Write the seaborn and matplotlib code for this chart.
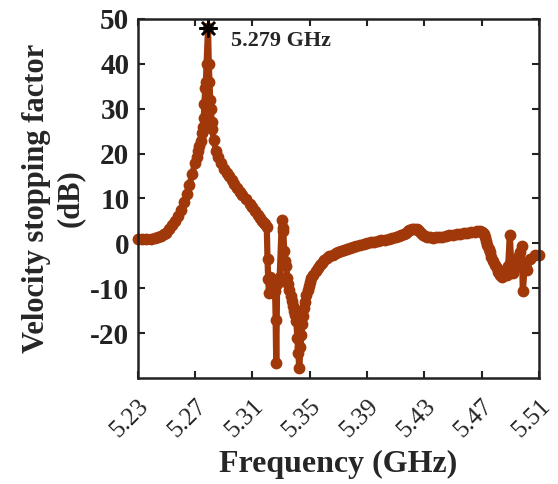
import matplotlib
matplotlib.use("Agg")
import matplotlib.pyplot as plt
import seaborn as sns

# frequency (GHz) and velocity stopping factor (dB)
freq = [5.230, 5.233, 5.236, 5.239, 5.242, 5.244, 5.246, 5.248, 5.250, 5.252,
        5.254, 5.256, 5.258, 5.260, 5.262, 5.264, 5.266, 5.268, 5.270, 5.271,
        5.272, 5.273, 5.274, 5.275, 5.2755, 5.276, 5.2765, 5.277, 5.2775, 5.278,
        5.279, 5.2795, 5.280, 5.2805, 5.281, 5.2815, 5.282, 5.283, 5.2846, 5.286,
        5.288, 5.290, 5.292, 5.2937, 5.2955, 5.297, 5.299, 5.301, 5.303, 5.3056,
        5.308, 5.310, 5.312, 5.314, 5.3155, 5.317, 5.318, 5.319, 5.3200, 5.3205,
        5.3210, 5.3215, 5.3220, 5.3230, 5.3240, 5.3250, 5.3258, 5.3262, 5.3266, 5.3272,
        5.3290, 5.3305, 5.3310, 5.3315, 5.3322, 5.3330, 5.3336, 5.3343, 5.3350, 5.3357,
        5.3367, 5.3378, 5.3385, 5.3392, 5.3400, 5.3406, 5.3413, 5.3420, 5.3427, 5.3435,
        5.3442, 5.3448, 5.3455, 5.3462, 5.3469, 5.3476, 5.3485, 5.3495, 5.3503, 5.3511,
        5.3525, 5.3540, 5.3555, 5.3568, 5.3585, 5.3600, 5.3620, 5.3637, 5.3660, 5.3680,
        5.3700, 5.3720, 5.3740, 5.3760, 5.3780, 5.3800, 5.3825, 5.3850, 5.3875, 5.3900,
        5.3925, 5.3950, 5.3975, 5.4000, 5.4025, 5.4050, 5.4075, 5.4100, 5.4120, 5.4140,
        5.4155, 5.4170, 5.4185, 5.4196, 5.4210, 5.4225, 5.4245, 5.4255, 5.4265, 5.4275,
        5.4287, 5.4305, 5.4320, 5.4340, 5.4357, 5.4380, 5.4400, 5.4425, 5.4450, 5.4475,
        5.4500, 5.4525, 5.4550, 5.4575, 5.4600, 5.4625, 5.4650, 5.4670, 5.4690, 5.4700,
        5.4710, 5.4718, 5.4725, 5.4733, 5.4740, 5.4748, 5.4756, 5.4768, 5.4780, 5.4792,
        5.4805, 5.4815, 5.4826, 5.4845, 5.4860, 5.4875, 5.4885, 5.4896, 5.4905, 5.4920,
        5.4931, 5.4950, 5.4970, 5.4980, 5.4987, 5.5000, 5.5015, 5.5040, 5.5070, 5.5100]
vsf = [1.0, 1.0, 1.0, 1.05, 1.2, 1.35, 1.6, 2.0, 2.4, 3.1,
       4.0, 5.0, 6.1, 7.5, 9.1, 11.0, 13.0, 15.5, 18.0, 19.3,
       20.5, 21.6, 22.7, 24.5, 26.0, 28.0, 31.0, 34.5, 36.0, 40.0,
       48.0, 40.0, 36.0, 32.0, 30.0, 27.0, 25.5, 23.0, 20.5, 19.2,
       17.8, 16.6, 15.7, 15.0, 14.1, 13.3, 12.4, 11.5, 10.7, 9.8,
       8.8, 8.0, 7.1, 6.2, 5.6, 5.0, 4.6, 4.2, 3.6, -3.5,
       -8.0, -11.0, -7.5, -8.2, -11.0, -8.5, -10.7, -17.0, -26.7, -9.0,
       -7.5, 5.1, 3.5, 2.7, -1.8, -4.0, -5.0, -7.8, -9.0, -10.4,
       -11.7, -12.9, -14.0, -15.0, -16.0, -17.3, -21.0, -24.5, -27.8, -23.0,
       -20.5, -18.0, -16.2, -14.5, -13.0, -11.5, -10.4, -9.5, -8.6, -7.8,
       -7.0, -6.2, -5.5, -4.9, -4.3, -3.8, -3.3, -2.9, -2.5, -2.2,
       -1.9, -1.6, -1.4, -1.2, -1.0, -0.8, -0.55, -0.3, -0.1, 0.1,
       0.25, 0.4, 0.55, 0.7, 0.85, 1.0, 1.2, 1.4, 1.6, 1.9,
       2.1, 2.4, 2.65, 2.9, 3.1, 3.3, 3.3, 3.0, 2.7, 2.3,
       1.9, 1.6, 1.4, 1.3, 1.2, 1.3, 1.4, 1.5, 1.6, 1.75,
       1.9, 2.0, 2.1, 2.25, 2.4, 2.5, 2.6, 2.65, 2.7, 2.6,
       2.4, 2.0, 1.5, 0.6, -0.4, -1.2, -2.0, -3.0, -4.0, -4.8,
       -5.5, -6.3, -7.0, -7.5, -6.5, -7.0, -5.0, 1.8, -4.0, -6.5,
       -5.5, -3.0, -2.0, -0.7, -10.7, -5.0, -6.0, -3.5, -2.5, -2.7]

peak_freq = 5.279
peak_val = 48.0
peak_label = "5.279 GHz"

xticks = [5.23, 5.27, 5.31, 5.35, 5.39, 5.43, 5.47, 5.51]
yticks = [-20, -10, 0, 10, 20, 30, 40, 50]

sns.set_style("ticks")
plt.rcParams["font.family"] = ["Liberation Serif", "DejaVu Serif"]
plt.rcParams["font.weight"] = "bold"

fig = plt.figure(figsize=(5.58, 4.84), dpi=100)
ax = fig.add_axes([0.247, 0.219, 0.719, 0.742])

line_color = "#A0380A"
sns.lineplot(x=freq, y=vsf, ax=ax, color=line_color, linewidth=4.5,
             marker="o", markersize=8.5, markeredgewidth=0,
             estimator=None, sort=False, clip_on=False)

# marker on the resonance peak
ax.plot([peak_freq], [peak_val], marker=(8, 2, 0), color="black",
        markersize=13, markeredgewidth=1.8, linestyle="none", clip_on=False)
ax.text(peak_freq + 0.016, peak_val - 3, peak_label, fontsize=16,
        fontweight="bold", va="center", ha="left")

ax.set_xlim(5.23, 5.51)
ax.set_ylim(-30, 50)
ax.set_xticks(xticks)
ax.set_xticklabels([f"{t:.2f}" for t in xticks], rotation=45,
                   ha="right", va="top", rotation_mode="anchor",
                   fontsize=18, fontweight="normal")
ax.set_yticks(yticks)
ax.set_yticklabels([str(t) for t in yticks], fontsize=21, fontweight="bold")

ax.tick_params(direction="in", length=5, width=1.5, top=True, right=True,
               colors="#222222")
ax.tick_params(axis="x", pad=12)
ax.tick_params(axis="y", pad=6)
for s in ax.spines.values():
    s.set_visible(True)
    s.set_linewidth(1.8)
    s.set_color("#222222")

ax.set_xlabel("Frequency (GHz)", fontsize=23, fontweight="bold", labelpad=6)
ax.set_ylabel("Velocity stopping factor\n(dB)", fontsize=22,
              fontweight="bold", labelpad=4, linespacing=1.2)

fig.savefig("out.png", dpi=100)
